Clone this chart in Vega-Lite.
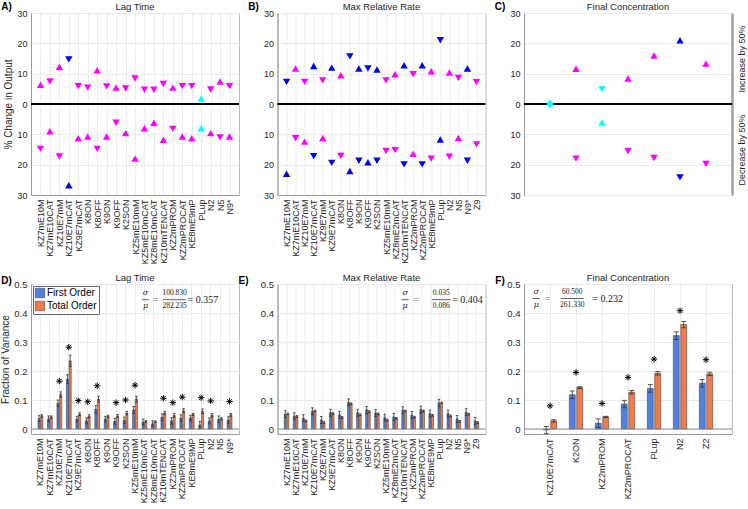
{
  "$schema": "https://vega.github.io/schema/vega-lite/v6.json",
  "padding": {"left": 0, "top": 1, "right": 0, "bottom": 0},
  "background": "white",
  "bounds": "flush",
  "columns": 3,
  "spacing": {"row": 89, "column": 38.5},
  "resolve": {"scale": {"color": "independent", "shape": "independent", "xOffset": "independent"}, "legend": {"color": "independent", "shape": "independent"}},
  "config": {
    "font": "Liberation Sans",
    "view": {"stroke": "#bcbcbc", "strokeWidth": 1},
    "axis": {"labelFontSize": 9, "labelColor": "#262626", "titleFontSize": 10, "titleFontWeight": "normal", "titleColor": "#262626", "domainColor": "#9a9a9a", "gridColor": "#ebebeb", "ticks": false, "labelPadding": 4, "labelOverlap": false, "grid": true}
  },
  "datasets": {
    "top": [
      {"p":"A","k":"KZ7mE10M","v":6.3,"d":"up","c":"m"},{"p":"A","k":"KZ7mE10M","v":-14.8,"d":"down","c":"m"},
      {"p":"A","k":"KZ7mE10CAT","v":7.4,"d":"down","c":"m"},{"p":"A","k":"KZ7mE10CAT","v":-9.0,"d":"up","c":"m"},
      {"p":"A","k":"KZ10E7mM","v":12.3,"d":"up","c":"m"},{"p":"A","k":"KZ10E7mM","v":-17.3,"d":"down","c":"m"},
      {"p":"A","k":"KZ10E7mCAT","v":14.7,"d":"down","c":"b"},{"p":"A","k":"KZ10E7mCAT","v":-26.8,"d":"up","c":"b"},
      {"p":"A","k":"KZ9E7mCAT","v":5.9,"d":"down","c":"m"},{"p":"A","k":"KZ9E7mCAT","v":-11.3,"d":"up","c":"m"},
      {"p":"A","k":"K8ON","v":5.4,"d":"down","c":"m"},{"p":"A","k":"K8ON","v":-10.7,"d":"up","c":"m"},
      {"p":"A","k":"K8OFF","v":11.1,"d":"up","c":"m"},{"p":"A","k":"K8OFF","v":-14.8,"d":"down","c":"m"},
      {"p":"A","k":"K9ON","v":5.8,"d":"down","c":"m"},{"p":"A","k":"K9ON","v":-10.7,"d":"up","c":"m"},
      {"p":"A","k":"K9OFF","v":5.4,"d":"up","c":"m"},{"p":"A","k":"K9OFF","v":-6.2,"d":"down","c":"m"},
      {"p":"A","k":"K2SON","v":5.1,"d":"down","c":"m"},{"p":"A","k":"K2SON","v":-9.6,"d":"up","c":"m"},
      {"p":"A","k":"KZ5mE10mM","v":8.4,"d":"down","c":"m"},{"p":"A","k":"KZ5mE10mM","v":-18.0,"d":"up","c":"m"},
      {"p":"A","k":"KZ5mE10mCAT","v":4.7,"d":"down","c":"m"},{"p":"A","k":"KZ5mE10mCAT","v":-8.0,"d":"up","c":"m"},
      {"p":"A","k":"KZ8mE10mCAT","v":4.7,"d":"down","c":"m"},{"p":"A","k":"KZ8mE10mCAT","v":-6.2,"d":"up","c":"m"},
      {"p":"A","k":"KZ10mTENCAT","v":6.6,"d":"down","c":"m"},{"p":"A","k":"KZ10mTENCAT","v":-11.8,"d":"up","c":"m"},
      {"p":"A","k":"KZ2mPROM","v":5.4,"d":"up","c":"m"},{"p":"A","k":"KZ2mPROM","v":-8.2,"d":"down","c":"m"},
      {"p":"A","k":"KZ2mPROCAT","v":5.9,"d":"down","c":"m"},{"p":"A","k":"KZ2mPROCAT","v":-10.7,"d":"up","c":"m"},
      {"p":"A","k":"KE8mE9mP","v":5.9,"d":"down","c":"m"},{"p":"A","k":"KE8mE9mP","v":-11.3,"d":"up","c":"m"},
      {"p":"A","k":"PLup","v":1.8,"d":"up","c":"c"},{"p":"A","k":"PLup","v":-8.0,"d":"up","c":"c"},
      {"p":"A","k":"N2","v":4.8,"d":"down","c":"m"},{"p":"A","k":"N2","v":-9.6,"d":"up","c":"m"},
      {"p":"A","k":"N5","v":7.4,"d":"up","c":"m"},{"p":"A","k":"N5","v":-11.0,"d":"down","c":"m"},
      {"p":"A","k":"N9*","v":5.9,"d":"down","c":"m"},{"p":"A","k":"N9*","v":-10.7,"d":"up","c":"m"},

      {"p":"B","k":"KZ7mE10M","v":7.3,"d":"down","c":"b"},{"p":"B","k":"KZ7mE10M","v":-23.0,"d":"up","c":"b"},
      {"p":"B","k":"KZ7mE10CAT","v":11.7,"d":"up","c":"m"},{"p":"B","k":"KZ7mE10CAT","v":-11.3,"d":"down","c":"m"},
      {"p":"B","k":"KZ10E7mM","v":7.3,"d":"down","c":"m"},{"p":"B","k":"KZ10E7mM","v":-12.4,"d":"up","c":"m"},
      {"p":"B","k":"KZ10E7mCAT","v":12.5,"d":"up","c":"b"},{"p":"B","k":"KZ10E7mCAT","v":-17.2,"d":"down","c":"b"},
      {"p":"B","k":"KZ9E7mM","v":7.8,"d":"down","c":"m"},{"p":"B","k":"KZ9E7mM","v":-11.2,"d":"up","c":"m"},
      {"p":"B","k":"KZ9E7mCAT","v":12.0,"d":"up","c":"b"},{"p":"B","k":"KZ9E7mCAT","v":-19.4,"d":"down","c":"b"},
      {"p":"B","k":"K8ON","v":9.5,"d":"up","c":"m"},{"p":"B","k":"K8ON","v":-17.1,"d":"down","c":"m"},
      {"p":"B","k":"K8OFF","v":15.7,"d":"down","c":"b"},{"p":"B","k":"K8OFF","v":-22.1,"d":"up","c":"b"},
      {"p":"B","k":"K9ON","v":11.7,"d":"up","c":"b"},{"p":"B","k":"K9ON","v":-18.7,"d":"down","c":"b"},
      {"p":"B","k":"K9OFF","v":11.7,"d":"down","c":"b"},{"p":"B","k":"K9OFF","v":-19.2,"d":"up","c":"b"},
      {"p":"B","k":"K2SON","v":11.4,"d":"up","c":"b"},{"p":"B","k":"K2SON","v":-18.7,"d":"down","c":"b"},
      {"p":"B","k":"KZ5mE10mM","v":7.8,"d":"down","c":"m"},{"p":"B","k":"KZ5mE10mM","v":-15.5,"d":"down","c":"m"},
      {"p":"B","k":"KZ8mE2mCAT","v":9.8,"d":"up","c":"m"},{"p":"B","k":"KZ8mE2mCAT","v":-15.2,"d":"down","c":"m"},
      {"p":"B","k":"KZ10mTENCAT","v":12.8,"d":"up","c":"b"},{"p":"B","k":"KZ10mTENCAT","v":-19.9,"d":"down","c":"b"},
      {"p":"B","k":"KZ2mPROM","v":9.8,"d":"down","c":"m"},{"p":"B","k":"KZ2mPROM","v":-16.4,"d":"up","c":"m"},
      {"p":"B","k":"KZ2mPROCAT","v":12.8,"d":"up","c":"b"},{"p":"B","k":"KZ2mPROCAT","v":-19.9,"d":"down","c":"b"},
      {"p":"B","k":"KE8mE9mP","v":10.8,"d":"up","c":"m"},{"p":"B","k":"KE8mE9mP","v":-18.0,"d":"down","c":"m"},
      {"p":"B","k":"PLup","v":21.0,"d":"down","c":"b"},{"p":"B","k":"PLup","v":-11.7,"d":"up","c":"b"},
      {"p":"B","k":"N2","v":10.4,"d":"up","c":"m"},{"p":"B","k":"N2","v":-17.4,"d":"down","c":"m"},
      {"p":"B","k":"N5","v":8.6,"d":"down","c":"m"},{"p":"B","k":"N5","v":-11.2,"d":"up","c":"m"},
      {"p":"B","k":"N9*","v":11.7,"d":"up","c":"b"},{"p":"B","k":"N9*","v":-18.7,"d":"down","c":"b"},
      {"p":"B","k":"Z9","v":7.2,"d":"down","c":"m"},{"p":"B","k":"Z9","v":-13.3,"d":"down","c":"m"},

      {"p":"C","k":"KZ10E7mCAT","v":0.6,"d":"up","c":"c"},{"p":"C","k":"KZ10E7mCAT","v":-0.6,"d":"down","c":"c"},
      {"p":"C","k":"K2ON","v":11.6,"d":"up","c":"m"},{"p":"C","k":"K2ON","v":-18.0,"d":"down","c":"m"},
      {"p":"C","k":"KZ2mPROM","v":4.9,"d":"down","c":"c"},{"p":"C","k":"KZ2mPROM","v":-6.1,"d":"up","c":"c"},
      {"p":"C","k":"KZ2mPROCAT","v":8.4,"d":"up","c":"m"},{"p":"C","k":"KZ2mPROCAT","v":-15.6,"d":"down","c":"m"},
      {"p":"C","k":"PLup","v":16.0,"d":"up","c":"m"},{"p":"C","k":"PLup","v":-17.8,"d":"down","c":"m"},
      {"p":"C","k":"N2","v":21.0,"d":"up","c":"b"},{"p":"C","k":"N2","v":-24.2,"d":"down","c":"b"},
      {"p":"C","k":"Z2","v":13.3,"d":"up","c":"m"},{"p":"C","k":"Z2","v":-19.8,"d":"down","c":"m"}
    ],
    "bot": [
      {"p":"D","k":"KZ7mE10M","o":"First Order","v":0.036,"lo":0.026,"hi":0.046},{"p":"D","k":"KZ7mE10M","o":"Total Order","v":0.045,"lo":0.041,"hi":0.049},
      {"p":"D","k":"KZ7mE10CAT","o":"First Order","v":0.035,"lo":0.025,"hi":0.045},{"p":"D","k":"KZ7mE10CAT","o":"Total Order","v":0.041,"lo":0.037,"hi":0.045},
      {"p":"D","k":"KZ10E7mM","o":"First Order","v":0.089,"lo":0.078,"hi":0.100},{"p":"D","k":"KZ10E7mM","o":"Total Order","v":0.119,"lo":0.110,"hi":0.128},
      {"p":"D","k":"KZ10E7mCAT","o":"First Order","v":0.172,"lo":0.157,"hi":0.187},{"p":"D","k":"KZ10E7mCAT","o":"Total Order","v":0.235,"lo":0.215,"hi":0.255},
      {"p":"D","k":"KZ9E7mCAT","o":"First Order","v":0.034,"lo":0.024,"hi":0.044},{"p":"D","k":"KZ9E7mCAT","o":"Total Order","v":0.051,"lo":0.046,"hi":0.056},
      {"p":"D","k":"K8ON","o":"First Order","v":0.028,"lo":0.018,"hi":0.038},{"p":"D","k":"K8ON","o":"Total Order","v":0.044,"lo":0.039,"hi":0.049},
      {"p":"D","k":"K8OFF","o":"First Order","v":0.068,"lo":0.055,"hi":0.081},{"p":"D","k":"K8OFF","o":"Total Order","v":0.103,"lo":0.093,"hi":0.113},
      {"p":"D","k":"K9ON","o":"First Order","v":0.034,"lo":0.024,"hi":0.044},{"p":"D","k":"K9ON","o":"Total Order","v":0.044,"lo":0.040,"hi":0.048},
      {"p":"D","k":"K9OFF","o":"First Order","v":0.027,"lo":0.017,"hi":0.037},{"p":"D","k":"K9OFF","o":"Total Order","v":0.045,"lo":0.040,"hi":0.050},
      {"p":"D","k":"K2SON","o":"First Order","v":0.030,"lo":0.019,"hi":0.041},{"p":"D","k":"K2SON","o":"Total Order","v":0.055,"lo":0.049,"hi":0.061},
      {"p":"D","k":"KZ5mE10mM","o":"First Order","v":0.066,"lo":0.054,"hi":0.078},{"p":"D","k":"KZ5mE10mM","o":"Total Order","v":0.103,"lo":0.093,"hi":0.113},
      {"p":"D","k":"KZ5mE10mCAT","o":"First Order","v":0.024,"lo":0.014,"hi":0.034},{"p":"D","k":"KZ5mE10mCAT","o":"Total Order","v":0.026,"lo":0.023,"hi":0.029},
      {"p":"D","k":"KZ8mE10mCAT","o":"First Order","v":0.018,"lo":0.008,"hi":0.028},{"p":"D","k":"KZ8mE10mCAT","o":"Total Order","v":0.025,"lo":0.022,"hi":0.028},
      {"p":"D","k":"KZ10mTENCAT","o":"First Order","v":0.041,"lo":0.030,"hi":0.052},{"p":"D","k":"KZ10mTENCAT","o":"Total Order","v":0.055,"lo":0.049,"hi":0.061},
      {"p":"D","k":"KZ2mPROM","o":"First Order","v":0.028,"lo":0.017,"hi":0.039},{"p":"D","k":"KZ2mPROM","o":"Total Order","v":0.047,"lo":0.041,"hi":0.053},
      {"p":"D","k":"KZ2mPROCAT","o":"First Order","v":0.038,"lo":0.027,"hi":0.049},{"p":"D","k":"KZ2mPROCAT","o":"Total Order","v":0.063,"lo":0.056,"hi":0.070},
      {"p":"D","k":"KE8mE9MP","o":"First Order","v":0.038,"lo":0.028,"hi":0.048},{"p":"D","k":"KE8mE9MP","o":"Total Order","v":0.050,"lo":0.046,"hi":0.054},
      {"p":"D","k":"PLup","o":"First Order","v":0.014,"lo":0.002,"hi":0.026},{"p":"D","k":"PLup","o":"Total Order","v":0.061,"lo":0.053,"hi":0.069},
      {"p":"D","k":"N2","o":"First Order","v":0.028,"lo":0.018,"hi":0.038},{"p":"D","k":"N2","o":"Total Order","v":0.048,"lo":0.042,"hi":0.054},
      {"p":"D","k":"N5","o":"First Order","v":0.034,"lo":0.023,"hi":0.045},{"p":"D","k":"N5","o":"Total Order","v":0.035,"lo":0.031,"hi":0.039},
      {"p":"D","k":"N9*","o":"First Order","v":0.031,"lo":0.020,"hi":0.042},{"p":"D","k":"N9*","o":"Total Order","v":0.049,"lo":0.044,"hi":0.054},

      {"p":"E","k":"KZ7mE10M","o":"First Order","v":0.051,"lo":0.039,"hi":0.063},{"p":"E","k":"KZ7mE10M","o":"Total Order","v":0.052,"lo":0.049,"hi":0.055},
      {"p":"E","k":"KZ7mE10CAT","o":"First Order","v":0.044,"lo":0.032,"hi":0.056},{"p":"E","k":"KZ7mE10CAT","o":"Total Order","v":0.043,"lo":0.040,"hi":0.046},
      {"p":"E","k":"KZ10E7mM","o":"First Order","v":0.037,"lo":0.025,"hi":0.049},{"p":"E","k":"KZ10E7mM","o":"Total Order","v":0.028,"lo":0.025,"hi":0.031},
      {"p":"E","k":"KZ10E7mCAT","o":"First Order","v":0.061,"lo":0.049,"hi":0.073},{"p":"E","k":"KZ10E7mCAT","o":"Total Order","v":0.062,"lo":0.059,"hi":0.065},
      {"p":"E","k":"KZ9E7mM","o":"First Order","v":0.031,"lo":0.019,"hi":0.043},{"p":"E","k":"KZ9E7mM","o":"Total Order","v":0.022,"lo":0.019,"hi":0.025},
      {"p":"E","k":"KZ9E7mCAT","o":"First Order","v":0.056,"lo":0.044,"hi":0.068},{"p":"E","k":"KZ9E7mCAT","o":"Total Order","v":0.053,"lo":0.050,"hi":0.056},
      {"p":"E","k":"K8ON","o":"First Order","v":0.049,"lo":0.037,"hi":0.061},{"p":"E","k":"K8ON","o":"Total Order","v":0.040,"lo":0.037,"hi":0.043},
      {"p":"E","k":"K8OFF","o":"First Order","v":0.092,"lo":0.080,"hi":0.104},{"p":"E","k":"K8OFF","o":"Total Order","v":0.087,"lo":0.084,"hi":0.090},
      {"p":"E","k":"K9ON","o":"First Order","v":0.056,"lo":0.044,"hi":0.068},{"p":"E","k":"K9ON","o":"Total Order","v":0.049,"lo":0.046,"hi":0.052},
      {"p":"E","k":"K9OFF","o":"First Order","v":0.066,"lo":0.054,"hi":0.078},{"p":"E","k":"K9OFF","o":"Total Order","v":0.060,"lo":0.057,"hi":0.063},
      {"p":"E","k":"K2SON","o":"First Order","v":0.055,"lo":0.043,"hi":0.067},{"p":"E","k":"K2SON","o":"Total Order","v":0.052,"lo":0.049,"hi":0.055},
      {"p":"E","k":"KZ5mE10mM","o":"First Order","v":0.039,"lo":0.027,"hi":0.051},{"p":"E","k":"KZ5mE10mM","o":"Total Order","v":0.031,"lo":0.028,"hi":0.034},
      {"p":"E","k":"KZ8mE2mCAT","o":"First Order","v":0.042,"lo":0.030,"hi":0.054},{"p":"E","k":"KZ8mE2mCAT","o":"Total Order","v":0.037,"lo":0.034,"hi":0.040},
      {"p":"E","k":"KZ10mTENCAT","o":"First Order","v":0.065,"lo":0.053,"hi":0.077},{"p":"E","k":"KZ10mTENCAT","o":"Total Order","v":0.062,"lo":0.059,"hi":0.065},
      {"p":"E","k":"KZ2mPROM","o":"First Order","v":0.048,"lo":0.036,"hi":0.060},{"p":"E","k":"KZ2mPROM","o":"Total Order","v":0.041,"lo":0.038,"hi":0.044},
      {"p":"E","k":"KZ2mPROCAT","o":"First Order","v":0.067,"lo":0.055,"hi":0.079},{"p":"E","k":"KZ2mPROCAT","o":"Total Order","v":0.062,"lo":0.059,"hi":0.065},
      {"p":"E","k":"KE8mE9MP","o":"First Order","v":0.053,"lo":0.041,"hi":0.065},{"p":"E","k":"KE8mE9MP","o":"Total Order","v":0.047,"lo":0.044,"hi":0.050},
      {"p":"E","k":"PLup","o":"First Order","v":0.090,"lo":0.078,"hi":0.102},{"p":"E","k":"PLup","o":"Total Order","v":0.090,"lo":0.087,"hi":0.093},
      {"p":"E","k":"N2","o":"First Order","v":0.053,"lo":0.041,"hi":0.065},{"p":"E","k":"N2","o":"Total Order","v":0.045,"lo":0.042,"hi":0.048},
      {"p":"E","k":"N5","o":"First Order","v":0.035,"lo":0.023,"hi":0.047},{"p":"E","k":"N5","o":"Total Order","v":0.026,"lo":0.023,"hi":0.029},
      {"p":"E","k":"N9*","o":"First Order","v":0.058,"lo":0.046,"hi":0.070},{"p":"E","k":"N9*","o":"Total Order","v":0.051,"lo":0.048,"hi":0.054},
      {"p":"E","k":"Z9","o":"First Order","v":0.028,"lo":0.016,"hi":0.040},{"p":"E","k":"Z9","o":"Total Order","v":0.022,"lo":0.019,"hi":0.025},

      {"p":"F","k":"KZ10E7mCAT","o":"First Order","v":-0.003,"lo":-0.015,"hi":0.009},{"p":"F","k":"KZ10E7mCAT","o":"Total Order","v":0.028,"lo":0.024,"hi":0.032},
      {"p":"F","k":"K2ON","o":"First Order","v":0.118,"lo":0.105,"hi":0.131},{"p":"F","k":"K2ON","o":"Total Order","v":0.143,"lo":0.140,"hi":0.146},
      {"p":"F","k":"KZ2mPROM","o":"First Order","v":0.020,"lo":0.005,"hi":0.035},{"p":"F","k":"KZ2mPROM","o":"Total Order","v":0.042,"lo":0.040,"hi":0.044},
      {"p":"F","k":"KZ2mPROCAT","o":"First Order","v":0.086,"lo":0.073,"hi":0.099},{"p":"F","k":"KZ2mPROCAT","o":"Total Order","v":0.127,"lo":0.121,"hi":0.133},
      {"p":"F","k":"PLup","o":"First Order","v":0.140,"lo":0.127,"hi":0.153},{"p":"F","k":"PLup","o":"Total Order","v":0.192,"lo":0.186,"hi":0.198},
      {"p":"F","k":"N2","o":"First Order","v":0.322,"lo":0.309,"hi":0.335},{"p":"F","k":"N2","o":"Total Order","v":0.360,"lo":0.349,"hi":0.371},
      {"p":"F","k":"Z2","o":"First Order","v":0.158,"lo":0.145,"hi":0.171},{"p":"F","k":"Z2","o":"Total Order","v":0.190,"lo":0.184,"hi":0.196}
    ],
    "stars": [
      {"p":"D","k":"KZ10E7mM","s":0.165},{"p":"D","k":"KZ10E7mCAT","s":0.282},{"p":"D","k":"KZ9E7mCAT","s":0.098},
      {"p":"D","k":"K8ON","s":0.094},{"p":"D","k":"K8OFF","s":0.149},{"p":"D","k":"K9OFF","s":0.091},
      {"p":"D","k":"K2SON","s":0.100},{"p":"D","k":"KZ5mE10mM","s":0.151},{"p":"D","k":"KZ10mTENCAT","s":0.106},
      {"p":"D","k":"KZ2mPROM","s":0.091},{"p":"D","k":"KZ2mPROCAT","s":0.110},{"p":"D","k":"PLup","s":0.108},
      {"p":"D","k":"N2","s":0.097},{"p":"D","k":"N9*","s":0.095},
      {"p":"F","k":"KZ10E7mCAT","s":0.080},{"p":"F","k":"K2ON","s":0.195},{"p":"F","k":"KZ2mPROM","s":0.088},
      {"p":"F","k":"KZ2mPROCAT","s":0.178},{"p":"F","k":"PLup","s":0.241},{"p":"F","k":"N2","s":0.408},{"p":"F","k":"Z2","s":0.239}
    ]
  },
  "concat": [
    {
      "width": 208, "height": 182,
      "layer": [
        {"data": {"name": "top"}, "transform": [{"filter": "datum.p === 'A'"}],
         "mark": {"type": "point", "filled": true, "size": 55, "opacity": 1, "strokeWidth": 0},
         "encoding": {
           "x": {"field": "k", "type": "nominal", "scale": {"type": "point", "padding": 1, "domain": ["KZ7mE10M","KZ7mE10CAT","KZ10E7mM","KZ10E7mCAT","KZ9E7mCAT","K8ON","K8OFF","K9ON","K9OFF","K2SON","KZ5mE10mM","KZ5mE10mCAT","KZ8mE10mCAT","KZ10mTENCAT","KZ2mPROM","KZ2mPROCAT","KE8mE9mP","PLup","N2","N5","N9*"]}, "axis": {"title": null, "labelAngle": -90, "grid": true}},
           "y": {"field": "v", "type": "quantitative", "scale": {"domain": [-30, 30], "nice": false}, "axis": {"orient": "left", "values": [-30,-20,-10,0,10,20,30], "labelExpr": "'' + abs(datum.value)", "title": "% Change in Output", "titlePadding": 3, "grid": true, "labelOverlap": false}},
           "shape": {"field": "d", "type": "nominal", "scale": {"domain": ["up","down"], "range": ["triangle-up","triangle-down"]}, "legend": null},
           "color": {"field": "c", "type": "nominal", "scale": {"domain": ["m","b","c"], "range": ["#ff00ff","#0000ff","#00ffff"]}, "legend": null}
         }},
        {"data": {"values": [{}]}, "mark": {"type": "rule", "color": "black", "strokeWidth": 2}, "encoding": {"y": {"datum": 0, "type": "quantitative", "axis": {"orient": "left", "values": [-30,-20,-10,0,10,20,30], "labelExpr": "'' + abs(datum.value)", "title": "% Change in Output", "titlePadding": 3, "grid": true, "labelOverlap": false}}}},
        {"data": {"values": [{}]}, "encoding": {"y": {"datum": 30, "type": "quantitative", "axis": {"orient": "left", "values": [-30,-20,-10,0,10,20,30], "labelExpr": "'' + abs(datum.value)", "title": "% Change in Output", "titlePadding": 3, "grid": true, "labelOverlap": false}}},
         "layer": [
           {"mark": {"type": "text", "text": "A)", "fontWeight": "bold", "fontSize": 10, "align": "center", "baseline": "middle", "dx": -34, "dy": -6, "color": "black"}, "encoding": {"x": {"datum": "KZ7mE10M", "type": "nominal", "axis": {"title": null, "labelAngle": -90, "grid": true}}}},
           {"mark": {"type": "text", "text": "Lag Time", "fontSize": 9.5, "align": "center", "baseline": "middle", "dy": -6, "color": "#262626"}, "encoding": {"x": {"datum": "KZ5mE10mM", "type": "nominal", "axis": {"title": null, "labelAngle": -90, "grid": true}}}}
         ]}
      ]
    },
    {
      "width": 208, "height": 182,
      "layer": [
        {"data": {"name": "top"}, "transform": [{"filter": "datum.p === 'B'"}],
         "mark": {"type": "point", "filled": true, "size": 55, "opacity": 1, "strokeWidth": 0},
         "encoding": {
           "x": {"field": "k", "type": "nominal", "scale": {"type": "point", "padding": 1, "domain": ["KZ7mE10M","KZ7mE10CAT","KZ10E7mM","KZ10E7mCAT","KZ9E7mM","KZ9E7mCAT","K8ON","K8OFF","K9ON","K9OFF","K2SON","KZ5mE10mM","KZ8mE2mCAT","KZ10mTENCAT","KZ2mPROM","KZ2mPROCAT","KE8mE9mP","PLup","N2","N5","N9*","Z9"]}, "axis": {"title": null, "labelAngle": -90, "grid": true}},
           "y": {"field": "v", "type": "quantitative", "scale": {"domain": [-30, 30], "nice": false}, "axis": {"orient": "left", "values": [-30,-20,-10,0,10,20,30], "labelExpr": "'' + abs(datum.value)", "title": null, "grid": true, "labelOverlap": false}},
           "shape": {"field": "d", "type": "nominal", "scale": {"domain": ["up","down"], "range": ["triangle-up","triangle-down"]}, "legend": null},
           "color": {"field": "c", "type": "nominal", "scale": {"domain": ["m","b","c"], "range": ["#ff00ff","#0000ff","#00ffff"]}, "legend": null}
         }},
        {"data": {"values": [{}]}, "mark": {"type": "rule", "color": "black", "strokeWidth": 2}, "encoding": {"y": {"datum": 0, "type": "quantitative", "axis": {"orient": "left", "values": [-30,-20,-10,0,10,20,30], "labelExpr": "'' + abs(datum.value)", "title": null, "grid": true, "labelOverlap": false}}}},
        {"data": {"values": [{}]}, "encoding": {"y": {"datum": 30, "type": "quantitative", "axis": {"orient": "left", "values": [-30,-20,-10,0,10,20,30], "labelExpr": "'' + abs(datum.value)", "title": null, "grid": true, "labelOverlap": false}}},
         "layer": [
           {"mark": {"type": "text", "text": "B)", "fontWeight": "bold", "fontSize": 10, "align": "center", "baseline": "middle", "dx": -33, "dy": -6, "color": "black"}, "encoding": {"x": {"datum": "KZ7mE10M", "type": "nominal", "axis": {"title": null, "labelAngle": -90, "grid": true}}}},
           {"mark": {"type": "text", "text": "Max Relative Rate", "fontSize": 9.5, "align": "center", "baseline": "middle", "dx": 4.5, "dy": -6, "color": "#262626"}, "encoding": {"x": {"datum": "K2SON", "type": "nominal", "axis": {"title": null, "labelAngle": -90, "grid": true}}}}
         ]}
      ]
    },
    {
      "width": 208, "height": 182,
      "layer": [
        {"data": {"values": [{}]}, "mark": {"type": "rule", "color": "black", "strokeWidth": 2},
         "encoding": {"y": {"datum": 0, "type": "quantitative", "axis": {"orient": "right", "values": [-15, 15], "labelExpr": "datum.value > 0 ? 'Increase by 50%' : 'Decrease by 50%'", "labelAngle": -90, "labelAlign": "center", "labelBaseline": "top", "labelPadding": 5, "title": null, "grid": false, "domainWidth": 2.5, "domainColor": "#a0a0a0"}}}},
        {"data": {"name": "top"}, "transform": [{"filter": "datum.p === 'C'"}],
         "mark": {"type": "point", "filled": true, "size": 55, "opacity": 1, "strokeWidth": 0},
         "encoding": {
           "x": {"field": "k", "type": "nominal", "scale": {"type": "point", "padding": 1, "domain": ["KZ10E7mCAT","K2ON","KZ2mPROM","KZ2mPROCAT","PLup","N2","Z2"]}, "axis": {"title": null, "labelAngle": -90, "grid": true}},
           "y": {"field": "v", "type": "quantitative", "scale": {"domain": [-30, 30], "nice": false}, "axis": {"orient": "left", "values": [-30,-20,-10,0,10,20,30], "labelExpr": "'' + abs(datum.value)", "title": null, "grid": true}},
           "shape": {"field": "d", "type": "nominal", "scale": {"domain": ["up","down"], "range": ["triangle-up","triangle-down"]}, "legend": null},
           "color": {"field": "c", "type": "nominal", "scale": {"domain": ["m","b","c"], "range": ["#ff00ff","#0000ff","#00ffff"]}, "legend": null}
         }},
        {"data": {"values": [{}]}, "encoding": {"y": {"datum": 30, "type": "quantitative", "axis": null}},
         "layer": [
           {"mark": {"type": "text", "text": "C)", "fontWeight": "bold", "fontSize": 10, "align": "center", "baseline": "middle", "dx": -50, "dy": -6, "color": "black"}, "encoding": {"x": {"datum": "KZ10E7mCAT", "type": "nominal", "axis": null}}},
           {"mark": {"type": "text", "text": "Final Concentration", "fontSize": 9.5, "align": "center", "baseline": "middle", "dy": -6, "color": "#262626"}, "encoding": {"x": {"datum": "KZ2mPROCAT", "type": "nominal", "axis": null}}}
         ]}
      ]
    },
    {
      "width": 208, "height": 150,
      "resolve": {"scale": {"x": "independent"}},
      "layer": [
        {"layer": [
          {"data": {"name": "bot"}, "transform": [{"filter": "datum.p === 'D'"}],
           "encoding": {
             "x": {"field": "k", "type": "nominal", "scale": {"type": "band", "paddingInner": 0, "paddingOuter": 0.5, "domain": ["KZ7mE10M","KZ7mE10CAT","KZ10E7mM","KZ10E7mCAT","KZ9E7mCAT","K8ON","K8OFF","K9ON","K9OFF","K2SON","KZ5mE10mM","KZ5mE10mCAT","KZ8mE10mCAT","KZ10mTENCAT","KZ2mPROM","KZ2mPROCAT","KE8mE9MP","PLup","N2","N5","N9*"]}, "axis": {"title": null, "labelAngle": -90, "grid": true, "bandPosition": 0.5}},
             "xOffset": {"field": "o", "type": "nominal", "scale": {"domain": ["First Order","Total Order"], "paddingInner": 0.2, "paddingOuter": 0.85}}
           },
           "layer": [
             {"mark": {"type": "bar", "stroke": "#333333", "strokeWidth": 0.5},
              "encoding": {
                "y": {"field": "v", "type": "quantitative", "scale": {"domain": [-0.0172, 0.5], "nice": false, "zero": false}, "axis": {"orient": "left", "values": [0,0.1,0.2,0.3,0.4,0.5], "labelExpr": "datum.value == 0 ? '0' : format(datum.value, '.1f')", "title": "Fraction of Variance", "titlePadding": 3, "grid": true, "labelFontSize": 9.5, "labelOverlap": false}},
                "color": {"field": "o", "type": "nominal", "scale": {"domain": ["First Order","Total Order"], "range": ["#4f81dd","#f27b4d"]},
                  "legend": {"orient": "top-left", "title": null, "offset": 2, "fillColor": "white", "strokeColor": "#666666", "padding": 2, "labelFontSize": 10, "symbolType": "square", "symbolSize": 90, "rowPadding": 1, "symbolStrokeColor": "#333333", "symbolStrokeWidth": 0.5, "labelOffset": 2, "labelColor": "black"}}
              }},
             {"mark": {"type": "rule", "color": "#333333", "strokeWidth": 0.8}, "encoding": {"y": {"field": "lo", "type": "quantitative", "axis": {"orient": "left", "values": [0,0.1,0.2,0.3,0.4,0.5], "labelExpr": "datum.value == 0 ? '0' : format(datum.value, '.1f')", "title": "Fraction of Variance", "titlePadding": 3, "grid": true, "labelFontSize": 9.5, "labelOverlap": false}}, "y2": {"field": "hi"}}},
             {"mark": {"type": "tick", "orient": "horizontal", "size": 2.5, "thickness": 0.8, "color": "#333333", "opacity": 1}, "encoding": {"y": {"field": "lo", "type": "quantitative", "axis": {"orient": "left", "values": [0,0.1,0.2,0.3,0.4,0.5], "labelExpr": "datum.value == 0 ? '0' : format(datum.value, '.1f')", "title": "Fraction of Variance", "titlePadding": 3, "grid": true, "labelFontSize": 9.5, "labelOverlap": false}}}},
             {"mark": {"type": "tick", "orient": "horizontal", "size": 2.5, "thickness": 0.8, "color": "#333333", "opacity": 1}, "encoding": {"y": {"field": "hi", "type": "quantitative", "axis": {"orient": "left", "values": [0,0.1,0.2,0.3,0.4,0.5], "labelExpr": "datum.value == 0 ? '0' : format(datum.value, '.1f')", "title": "Fraction of Variance", "titlePadding": 3, "grid": true, "labelFontSize": 9.5, "labelOverlap": false}}}}
           ]},
          {"data": {"values": [{}]}, "mark": {"type": "rule", "color": "#8c8c8c", "strokeWidth": 1}, "encoding": {"y": {"datum": 0, "type": "quantitative", "axis": {"orient": "left", "values": [0,0.1,0.2,0.3,0.4,0.5], "labelExpr": "datum.value == 0 ? '0' : format(datum.value, '.1f')", "title": "Fraction of Variance", "titlePadding": 3, "grid": true, "labelFontSize": 9.5, "labelOverlap": false}}}},
          {"data": {"name": "stars"}, "transform": [{"filter": "datum.p === 'D'"}],
           "mark": {"type": "point", "shape": "M0,-1L0,1M-1,0L1,0M-0.7,-0.7L0.7,0.7M-0.7,0.7L0.7,-0.7", "size": 40, "stroke": "black", "strokeWidth": 1, "filled": false, "opacity": 1},
           "encoding": {"x": {"field": "k", "type": "nominal", "axis": {"title": null, "labelAngle": -90, "grid": true, "bandPosition": 0.5}}, "y": {"field": "s", "type": "quantitative", "axis": {"orient": "left", "values": [0,0.1,0.2,0.3,0.4,0.5], "labelExpr": "datum.value == 0 ? '0' : format(datum.value, '.1f')", "title": "Fraction of Variance", "titlePadding": 3, "grid": true, "labelFontSize": 9.5, "labelOverlap": false}}}}
        ]},
        {"data": {"values": [{}]}, "encoding": {"x": {"datum": 0.551, "type": "quantitative", "scale": {"domain": [0, 1], "nice": false, "zero": false}, "axis": null}, "y": {"datum": 0.446, "type": "quantitative", "axis": {"orient": "left", "values": [0,0.1,0.2,0.3,0.4,0.5], "labelExpr": "datum.value == 0 ? '0' : format(datum.value, '.1f')", "title": "Fraction of Variance", "titlePadding": 3, "grid": true, "labelFontSize": 9.5, "labelOverlap": false}}},
         "layer": [
          {"mark": {"type": "text", "text": ["σ", "μ"], "lineHeight": 13, "font": "DejaVu Serif", "fontStyle": "italic", "fontSize": 8, "baseline": "middle", "align": "center", "dy": -6.5, "color": "#222"}},
          {"mark": {"type": "rule", "color": "#222", "strokeWidth": 0.7}, "encoding": {"x": {"datum": 0.534}, "x2": {"datum": 0.568}}},
          {"mark": {"type": "text", "text": "=", "font": "Liberation Serif", "fontSize": 11, "baseline": "middle", "align": "center", "dx": 10, "color": "#777"}},
          {"mark": {"type": "text", "text": ["100.830", "282.235"], "lineHeight": 13, "font": "Liberation Serif", "fontSize": 7.5, "baseline": "middle", "align": "center", "dx": 29, "dy": -6.5, "color": "#222"}},
          {"mark": {"type": "rule", "color": "#222", "strokeWidth": 0.7}, "encoding": {"x": {"datum": 0.635}, "x2": {"datum": 0.745}}},
          {"mark": {"type": "text", "text": "=  0.357", "font": "Liberation Serif", "fontSize": 10, "baseline": "middle", "align": "left", "dx": 42, "color": "#222"}}
         ]},
        {"data": {"values": [{}]}, "encoding": {"y": {"datum": 0.5, "type": "quantitative", "axis": {"orient": "left", "values": [0,0.1,0.2,0.3,0.4,0.5], "labelExpr": "datum.value == 0 ? '0' : format(datum.value, '.1f')", "title": "Fraction of Variance", "titlePadding": 3, "grid": true, "labelFontSize": 9.5, "labelOverlap": false}}},
         "layer": [
           {"mark": {"type": "text", "text": "D)", "fontWeight": "bold", "fontSize": 10, "align": "center", "baseline": "middle", "dy": -3, "color": "black"}, "encoding": {"x": {"datum": -0.118, "type": "quantitative", "axis": null}}},
           {"mark": {"type": "text", "text": "Lag Time", "fontSize": 9.5, "align": "center", "baseline": "middle", "dy": -6, "color": "#262626"}, "encoding": {"x": {"datum": 0.5, "type": "quantitative", "scale": {"domain": [0, 1], "nice": false, "zero": false}, "axis": null}}}
         ]}
      ]
    },
    {
      "width": 208, "height": 150,
      "resolve": {"scale": {"x": "independent"}},
      "layer": [
        {"layer": [
          {"data": {"name": "bot"}, "transform": [{"filter": "datum.p === 'E'"}],
           "encoding": {
             "x": {"field": "k", "type": "nominal", "scale": {"type": "band", "paddingInner": 0, "paddingOuter": 0.5, "domain": ["KZ7mE10M","KZ7mE10CAT","KZ10E7mM","KZ10E7mCAT","KZ9E7mM","KZ9E7mCAT","K8ON","K8OFF","K9ON","K9OFF","K2SON","KZ5mE10mM","KZ8mE2mCAT","KZ10mTENCAT","KZ2mPROM","KZ2mPROCAT","KE8mE9MP","PLup","N2","N5","N9*","Z9"]}, "axis": {"title": null, "labelAngle": -90, "grid": true, "bandPosition": 0.5}},
             "xOffset": {"field": "o", "type": "nominal", "scale": {"domain": ["First Order","Total Order"], "paddingInner": 0.2, "paddingOuter": 0.85}}
           },
           "layer": [
             {"mark": {"type": "bar", "stroke": "#333333", "strokeWidth": 0.5},
              "encoding": {
                "y": {"field": "v", "type": "quantitative", "scale": {"domain": [-0.0172, 0.5], "nice": false, "zero": false}, "axis": {"orient": "left", "values": [0,0.1,0.2,0.3,0.4,0.5], "labelExpr": "datum.value == 0 ? '0' : format(datum.value, '.1f')", "title": null, "grid": true, "labelFontSize": 9.5, "labelOverlap": false}},
                "color": {"field": "o", "type": "nominal", "scale": {"domain": ["First Order","Total Order"], "range": ["#4f81dd","#f27b4d"]}, "legend": null}
              }},
             {"mark": {"type": "rule", "color": "#333333", "strokeWidth": 0.8}, "encoding": {"y": {"field": "lo", "type": "quantitative", "axis": {"orient": "left", "values": [0,0.1,0.2,0.3,0.4,0.5], "labelExpr": "datum.value == 0 ? '0' : format(datum.value, '.1f')", "title": null, "grid": true, "labelFontSize": 9.5, "labelOverlap": false}}, "y2": {"field": "hi"}}},
             {"mark": {"type": "tick", "orient": "horizontal", "size": 2.5, "thickness": 0.8, "color": "#333333", "opacity": 1}, "encoding": {"y": {"field": "lo", "type": "quantitative", "axis": {"orient": "left", "values": [0,0.1,0.2,0.3,0.4,0.5], "labelExpr": "datum.value == 0 ? '0' : format(datum.value, '.1f')", "title": null, "grid": true, "labelFontSize": 9.5, "labelOverlap": false}}}},
             {"mark": {"type": "tick", "orient": "horizontal", "size": 2.5, "thickness": 0.8, "color": "#333333", "opacity": 1}, "encoding": {"y": {"field": "hi", "type": "quantitative", "axis": {"orient": "left", "values": [0,0.1,0.2,0.3,0.4,0.5], "labelExpr": "datum.value == 0 ? '0' : format(datum.value, '.1f')", "title": null, "grid": true, "labelFontSize": 9.5, "labelOverlap": false}}}}
           ]},
          {"data": {"values": [{}]}, "mark": {"type": "rule", "color": "#8c8c8c", "strokeWidth": 1}, "encoding": {"y": {"datum": 0, "type": "quantitative", "axis": {"orient": "left", "values": [0,0.1,0.2,0.3,0.4,0.5], "labelExpr": "datum.value == 0 ? '0' : format(datum.value, '.1f')", "title": null, "grid": true, "labelFontSize": 9.5, "labelOverlap": false}}}}
        ]},
        {"data": {"values": [{}]}, "encoding": {"x": {"datum": 0.614, "type": "quantitative", "scale": {"domain": [0, 1], "nice": false, "zero": false}, "axis": null}, "y": {"datum": 0.446, "type": "quantitative", "axis": {"orient": "left", "values": [0,0.1,0.2,0.3,0.4,0.5], "labelExpr": "datum.value == 0 ? '0' : format(datum.value, '.1f')", "title": null, "grid": true, "labelFontSize": 9.5, "labelOverlap": false}}},
         "layer": [
          {"mark": {"type": "text", "text": ["σ", "μ"], "lineHeight": 13, "font": "DejaVu Serif", "fontStyle": "italic", "fontSize": 8, "baseline": "middle", "align": "center", "dy": -6.5, "color": "#222"}},
          {"mark": {"type": "rule", "color": "#222", "strokeWidth": 0.7}, "encoding": {"x": {"datum": 0.597}, "x2": {"datum": 0.631}}},
          {"mark": {"type": "text", "text": "=", "font": "Liberation Serif", "fontSize": 11, "baseline": "middle", "align": "center", "dx": 11, "color": "#777"}},
          {"mark": {"type": "text", "text": ["0.035", "0.086"], "lineHeight": 13, "font": "Liberation Serif", "fontSize": 7.5, "baseline": "middle", "align": "center", "dx": 36, "dy": -6.5, "color": "#222"}},
          {"mark": {"type": "rule", "color": "#222", "strokeWidth": 0.7}, "encoding": {"x": {"datum": 0.742}, "x2": {"datum": 0.832}}},
          {"mark": {"type": "text", "text": "=  0.404", "font": "Liberation Serif", "fontSize": 10, "baseline": "middle", "align": "left", "dx": 47, "color": "#222"}}
         ]},
        {"data": {"values": [{}]}, "encoding": {"y": {"datum": 0.5, "type": "quantitative", "axis": {"orient": "left", "values": [0,0.1,0.2,0.3,0.4,0.5], "labelExpr": "datum.value == 0 ? '0' : format(datum.value, '.1f')", "title": null, "grid": true, "labelFontSize": 9.5, "labelOverlap": false}}},
         "layer": [
           {"mark": {"type": "text", "text": "E)", "fontWeight": "bold", "fontSize": 10, "align": "center", "baseline": "middle", "dy": -3, "color": "black"}, "encoding": {"x": {"datum": -0.163, "type": "quantitative", "axis": null}}},
           {"mark": {"type": "text", "text": "Max Relative Rate", "fontSize": 9.5, "align": "center", "baseline": "middle", "dy": -6, "color": "#262626"}, "encoding": {"x": {"datum": 0.5, "type": "quantitative", "scale": {"domain": [0, 1], "nice": false, "zero": false}, "axis": null}}}
         ]}
      ]
    },
    {
      "width": 208, "height": 150,
      "resolve": {"scale": {"x": "independent"}},
      "layer": [
        {"layer": [
          {"data": {"name": "bot"}, "transform": [{"filter": "datum.p === 'F'"}],
           "encoding": {
             "x": {"field": "k", "type": "nominal", "scale": {"type": "band", "paddingInner": 0, "paddingOuter": 0.5, "domain": ["KZ10E7mCAT","K2ON","KZ2mPROM","KZ2mPROCAT","PLup","N2","Z2"]}, "axis": {"title": null, "labelAngle": -90, "grid": true, "bandPosition": 0.5}},
             "xOffset": {"field": "o", "type": "nominal", "scale": {"domain": ["First Order","Total Order"], "paddingInner": 0.2, "paddingOuter": 0.85}}
           },
           "layer": [
             {"mark": {"type": "bar", "stroke": "#333333", "strokeWidth": 0.5},
              "encoding": {
                "y": {"field": "v", "type": "quantitative", "scale": {"domain": [-0.0172, 0.5], "nice": false, "zero": false}, "axis": {"orient": "left", "values": [0,0.1,0.2,0.3,0.4,0.5], "labelExpr": "datum.value == 0 ? '0' : format(datum.value, '.1f')", "title": null, "grid": true, "labelFontSize": 9.5, "labelOverlap": false}},
                "color": {"field": "o", "type": "nominal", "scale": {"domain": ["First Order","Total Order"], "range": ["#4f81dd","#f27b4d"]}, "legend": null}
              }},
             {"mark": {"type": "rule", "color": "#333333", "strokeWidth": 0.8}, "encoding": {"y": {"field": "lo", "type": "quantitative", "axis": {"orient": "left", "values": [0,0.1,0.2,0.3,0.4,0.5], "labelExpr": "datum.value == 0 ? '0' : format(datum.value, '.1f')", "title": null, "grid": true, "labelFontSize": 9.5, "labelOverlap": false}}, "y2": {"field": "hi"}}},
             {"mark": {"type": "tick", "orient": "horizontal", "size": 5, "thickness": 0.8, "color": "#333333", "opacity": 1}, "encoding": {"y": {"field": "lo", "type": "quantitative", "axis": {"orient": "left", "values": [0,0.1,0.2,0.3,0.4,0.5], "labelExpr": "datum.value == 0 ? '0' : format(datum.value, '.1f')", "title": null, "grid": true, "labelFontSize": 9.5, "labelOverlap": false}}}},
             {"mark": {"type": "tick", "orient": "horizontal", "size": 5, "thickness": 0.8, "color": "#333333", "opacity": 1}, "encoding": {"y": {"field": "hi", "type": "quantitative", "axis": {"orient": "left", "values": [0,0.1,0.2,0.3,0.4,0.5], "labelExpr": "datum.value == 0 ? '0' : format(datum.value, '.1f')", "title": null, "grid": true, "labelFontSize": 9.5, "labelOverlap": false}}}}
           ]},
          {"data": {"values": [{}]}, "mark": {"type": "rule", "color": "#8c8c8c", "strokeWidth": 1}, "encoding": {"y": {"datum": 0, "type": "quantitative", "axis": {"orient": "left", "values": [0,0.1,0.2,0.3,0.4,0.5], "labelExpr": "datum.value == 0 ? '0' : format(datum.value, '.1f')", "title": null, "grid": true, "labelFontSize": 9.5, "labelOverlap": false}}}},
          {"data": {"name": "stars"}, "transform": [{"filter": "datum.p === 'F'"}],
           "mark": {"type": "point", "shape": "M0,-1L0,1M-1,0L1,0M-0.7,-0.7L0.7,0.7M-0.7,0.7L0.7,-0.7", "size": 40, "stroke": "black", "strokeWidth": 1, "filled": false, "opacity": 1},
           "encoding": {"x": {"field": "k", "type": "nominal", "axis": {"title": null, "labelAngle": -90, "grid": true, "bandPosition": 0.5}}, "y": {"field": "s", "type": "quantitative", "axis": {"orient": "left", "values": [0,0.1,0.2,0.3,0.4,0.5], "labelExpr": "datum.value == 0 ? '0' : format(datum.value, '.1f')", "title": null, "grid": true, "labelFontSize": 9.5, "labelOverlap": false}}}}
        ]},
        {"data": {"values": [{}]}, "encoding": {"x": {"datum": 0.059, "type": "quantitative", "scale": {"domain": [0, 1], "nice": false, "zero": false}, "axis": null}, "y": {"datum": 0.45, "type": "quantitative", "axis": {"orient": "left", "values": [0,0.1,0.2,0.3,0.4,0.5], "labelExpr": "datum.value == 0 ? '0' : format(datum.value, '.1f')", "title": null, "grid": true, "labelFontSize": 9.5, "labelOverlap": false}}},
         "layer": [
          {"mark": {"type": "text", "text": ["σ", "μ"], "lineHeight": 13, "font": "DejaVu Serif", "fontStyle": "italic", "fontSize": 8, "baseline": "middle", "align": "center", "dy": -6.5, "color": "#222"}},
          {"mark": {"type": "rule", "color": "#222", "strokeWidth": 0.7}, "encoding": {"x": {"datum": 0.042}, "x2": {"datum": 0.076}}},
          {"mark": {"type": "text", "text": "=", "font": "Liberation Serif", "fontSize": 11, "baseline": "middle", "align": "center", "dx": 11, "color": "#777"}},
          {"mark": {"type": "text", "text": ["60.500", "261.330"], "lineHeight": 13, "font": "Liberation Serif", "fontSize": 7.5, "baseline": "middle", "align": "center", "dx": 36, "dy": -6.5, "color": "#222"}},
          {"mark": {"type": "rule", "color": "#222", "strokeWidth": 0.7}, "encoding": {"x": {"datum": 0.177}, "x2": {"datum": 0.287}}},
          {"mark": {"type": "text", "text": "=  0.232", "font": "Liberation Serif", "fontSize": 10, "baseline": "middle", "align": "left", "dx": 56, "color": "#222"}}
         ]},
        {"data": {"values": [{}]}, "encoding": {"y": {"datum": 0.5, "type": "quantitative", "axis": {"orient": "left", "values": [0,0.1,0.2,0.3,0.4,0.5], "labelExpr": "datum.value == 0 ? '0' : format(datum.value, '.1f')", "title": null, "grid": true, "labelFontSize": 9.5, "labelOverlap": false}}},
         "layer": [
           {"mark": {"type": "text", "text": "F)", "fontWeight": "bold", "fontSize": 10, "align": "center", "baseline": "middle", "dy": -3, "color": "black"}, "encoding": {"x": {"datum": -0.115, "type": "quantitative", "axis": null}}},
           {"mark": {"type": "text", "text": "Final Concentration", "fontSize": 9.5, "align": "center", "baseline": "middle", "dy": -6, "color": "#262626"}, "encoding": {"x": {"datum": 0.5, "type": "quantitative", "scale": {"domain": [0, 1], "nice": false, "zero": false}, "axis": null}}}
         ]}
      ]
    }
  ]
}
